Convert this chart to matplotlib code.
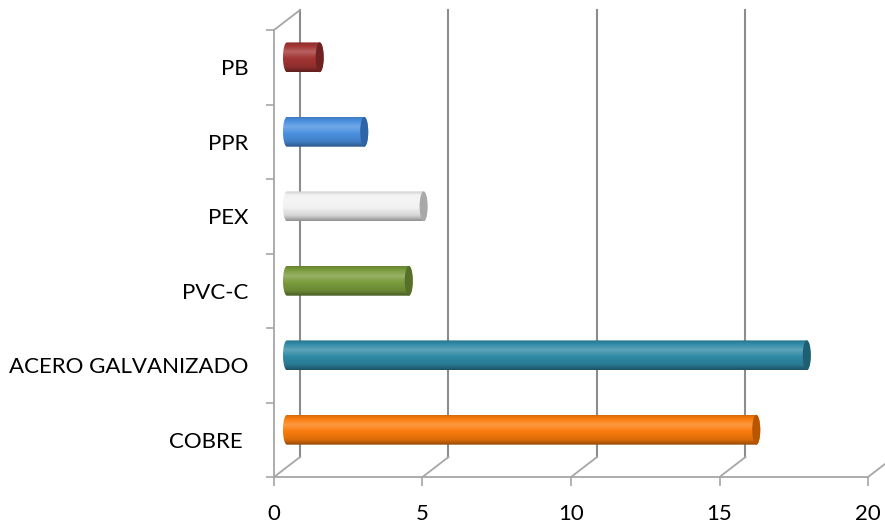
import numpy as np
import matplotlib
matplotlib.use("Agg")
import matplotlib.pyplot as plt
from matplotlib.patches import Ellipse, PathPatch
from matplotlib.path import Path
from matplotlib.colors import to_rgb

plt.rcParams['font.family'] = ['Lato', 'DejaVu Sans']

# datos (de abajo hacia arriba)
materiales = ['COBRE ', 'ACERO GALVANIZADO', 'PVC-C', 'PEX', 'PPR', 'PB']
valores = [15.8, 17.5, 4.1, 4.6, 2.6, 1.1]
colores = ['#FA7B0C', '#2F8AA6', '#7A9B3C', '#F2F2F2', '#4A90E0', '#A23533']
tapas = ['#B85600', '#1E5F74', '#56702A', '#A9A9A9', '#2E64A8', '#6E2322']
x_ticks = [0, 5, 10, 15, 20]

# desplazamiento en profundidad (pared del fondo), en unidades de datos
DX = 0.875
DY = 0.268
ALTO = 0.40     # grosor del cilindro (en categorías)
TAPA = 0.27     # ancho de la elipse del extremo (en valor)

fig = plt.figure(figsize=(8.85, 5.25), dpi=100)
ax = fig.add_axes([0.3096, 0.0914, 0.6712, 0.8514])
ax.set_xlim(0, 20)
ax.set_ylim(-0.5, len(materiales) - 0.5)

gris_piso = '#A6A6A6'
gris_rejilla = '#8C8C8C'

# pared del fondo: líneas verticales
for k in x_ticks:
    ax.plot([k + DX, k + DX], [-0.5 + DY, len(materiales) - 0.5 + DY],
            color=gris_rejilla, lw=1.5, clip_on=False, zorder=1)
# piso: diagonales
for k in x_ticks:
    ax.plot([k, k + DX], [-0.5, -0.5 + DY], color=gris_piso, lw=1.3,
            clip_on=False, zorder=1)
# pared lateral: diagonal superior
ax.plot([0, DX], [len(materiales) - 0.5, len(materiales) - 0.5 + DY],
        color=gris_piso, lw=1.3, clip_on=False, zorder=1)


def aclarar(c, f):
    c = np.array(to_rgb(c))
    return c + (1 - c) * f


def oscurecer(c, f):
    return np.array(to_rgb(c)) * (1 - f)


def cilindro(y, v, color, tapa):
    x0 = DX / 2
    x1 = v + DX / 2
    yc = y + DY / 2
    yb, yt = yc - ALTO / 2, yc + ALTO / 2
    a = TAPA / 2
    # contorno: mitad derecha de la elipse (abajo -> arriba), luego la izquierda (arriba -> abajo)
    t = np.linspace(-np.pi / 2, np.pi / 2, 40)
    der = np.column_stack([x1 + a * np.cos(t), yc + ALTO / 2 * np.sin(t)])
    izq = np.column_stack([x0 - a * np.cos(t), yc - ALTO / 2 * np.sin(t)])
    pts = np.vstack([der, izq, der[:1]])
    patch = PathPatch(Path(pts), facecolor='none', edgecolor='none')
    ax.add_patch(patch)

    # degradado vertical del cuerpo
    s = np.linspace(0, 1, 60)
    puntos = [0.0, 0.18, 0.45, 0.68, 0.88, 1.0]
    tonos = [oscurecer(color, 0.40), oscurecer(color, 0.12), to_rgb(color),
             aclarar(color, 0.22), to_rgb(color), oscurecer(color, 0.15)]
    grad = np.stack([np.interp(s, puntos, [c[i] for c in tonos]) for i in range(3)], axis=-1)
    im = ax.imshow(grad[:, None, :], extent=[x0 - a, x1 + a, yb, yt], origin='lower',
                   aspect='auto', interpolation='bilinear', zorder=3)
    im.set_clip_path(patch)

    # extremo derecho
    ax.add_patch(Ellipse((x1, yc), TAPA, ALTO, facecolor=tapa, edgecolor='none', zorder=4))


for i, (v, c, tp) in enumerate(zip(valores, colores, tapas)):
    cilindro(i, v, c, tp)

ax.set_xlim(0, 20)
ax.set_ylim(-0.5, len(materiales) - 0.5)

# ejes frontales
for lado in ['top', 'right']:
    ax.spines[lado].set_visible(False)
for lado in ['left', 'bottom']:
    ax.spines[lado].set_color(gris_piso)
    ax.spines[lado].set_linewidth(1.3)

ax.set_xticks(x_ticks)
ax.set_xticklabels([str(k) for k in x_ticks])
ax.tick_params(axis='x', length=6.5, width=1.2, color=gris_piso, pad=13,
               labelsize=16, labelcolor='black')

ax.set_yticks(range(len(materiales)))
ax.set_yticklabels(materiales)
ax.set_yticks(np.arange(-0.5, len(materiales)), minor=True)
ax.tick_params(axis='y', which='major', length=0, pad=18.5, labelsize=16,
               labelcolor='black')
ax.tick_params(axis='y', which='minor', length=6, width=1.2, color=gris_piso)

fig.savefig('out.png', dpi=100)
